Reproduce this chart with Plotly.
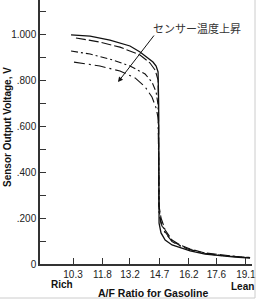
import plotly.graph_objects as go

# ---- data ----
x_solid = [10.2, 11.17, 12.18, 13.2, 13.71, 14.12, 14.37, 14.53, 14.63, 14.66, 14.68, 14.78, 14.99, 15.34, 15.75, 16.26, 17.02, 17.79, 18.55, 19.31]
y_solid = [0.996, 0.991, 0.974, 0.948, 0.922, 0.896, 0.878, 0.861, 0.835, 0.70, 0.178, 0.135, 0.104, 0.083, 0.070, 0.057, 0.043, 0.035, 0.030, 0.026]

x_dash = [10.45, 11.67, 12.69, 13.71, 14.22, 14.48, 14.63, 14.66, 14.67, 14.78, 14.99, 15.34, 15.75, 16.26, 17.02, 17.79, 18.55, 19.31]
y_dash = [0.983, 0.965, 0.943, 0.909, 0.874, 0.843, 0.800, 0.60, 0.257, 0.200, 0.148, 0.104, 0.083, 0.065, 0.048, 0.039, 0.033, 0.028]

x_dashdot = [10.2, 11.17, 12.18, 13.2, 13.97, 14.32, 14.53, 14.63, 14.66, 14.68, 14.78, 14.99, 15.34, 15.75, 16.26, 17.02, 17.79, 18.55, 19.31]
y_dashdot = [0.926, 0.913, 0.891, 0.861, 0.826, 0.791, 0.748, 0.691, 0.50, 0.235, 0.183, 0.139, 0.100, 0.080, 0.063, 0.047, 0.038, 0.032, 0.028]

x_longdd = [10.35, 11.67, 12.69, 13.46, 13.97, 14.32, 14.53, 14.63, 14.66, 14.68, 14.78, 14.99, 15.34, 15.75, 16.26, 17.02, 17.79, 18.55, 19.31]
y_longdd = [0.878, 0.861, 0.839, 0.809, 0.770, 0.726, 0.678, 0.635, 0.45, 0.220, 0.175, 0.135, 0.098, 0.078, 0.062, 0.046, 0.037, 0.031, 0.027]

x_ticks = [10.3, 11.8, 13.2, 14.7, 16.2, 17.6, 19.1]
x_ticktext = ["10.3", "11.8", "13.2", "14.7", "16.2", "17.6", "19.1"]
y_ticks = [0, 0.1, 0.2, 0.3, 0.4, 0.5, 0.6, 0.7, 0.8, 0.9, 1.0, 1.1]
y_ticktext = ["0", "", ".200", "", ".400", "", ".600", "", ".800", "", "1.000", ""]

label_temp = "センサー温度上昇"

# ---- figure ----
LAT = "Liberation Sans, Arial, sans-serif"
fig = go.Figure()
series = [
    (x_solid, y_solid, "solid", 1.3),
    (x_dash, y_dash, "10px,3px", 1.1),
    (x_dashdot, y_dashdot, "7px,3px,2px,3px", 1.1),
    (x_longdd, y_longdd, "11px,4px,2px,4px", 1.1),
]
for xs, ys, dash, w in series:
    fig.add_trace(go.Scatter(x=xs, y=ys, mode="lines",
                             line=dict(color="#111111", width=w, dash=dash),
                             showlegend=False, hoverinfo="skip"))

fig.update_xaxes(range=[8.62, 19.41], tickvals=x_ticks, ticktext=x_ticktext,
                 ticks="inside", ticklen=6, tickwidth=1, tickcolor="#333333",
                 showline=True, linecolor="#333333", linewidth=1.5,
                 showgrid=False, zeroline=False, automargin=False,
                 tickfont=dict(family=LAT, size=10, color="#222222"))
fig.update_yaxes(range=[0, 1.148], tickvals=y_ticks, ticktext=y_ticktext,
                 ticks="inside", ticklen=6, tickwidth=1, tickcolor="#333333",
                 showline=True, linecolor="#333333", linewidth=1.5,
                 showgrid=False, zeroline=False, automargin=False,
                 tickfont=dict(family=LAT, size=10, color="#222222"))

C = dict(xanchor="center", yanchor="middle")
ann = [
    dict(x=16.62, y=1.026, xref="x", yref="y", text=label_temp, showarrow=False,
         font=dict(family="Noto Sans CJK JP", size=11, color="#333333"), **C),
    dict(x=12.59, y=0.791, xref="x", yref="y", ax=14.48, ay=1.0, axref="x", ayref="y",
         text="", showarrow=True, arrowhead=2, arrowsize=1, arrowwidth=1, arrowcolor="#111111"),
    dict(x=0.104, y=-0.0795, xref="paper", yref="paper", text="<b>Rich</b>", showarrow=False,
         font=dict(family=LAT, size=10, color="#111111"), **C),
    dict(x=0.9575, y=-0.087, xref="paper", yref="paper", text="<b>Lean</b>", showarrow=False,
         font=dict(family=LAT, size=10, color="#111111"), **C),
    dict(x=0.533, y=-0.110, xref="paper", yref="paper", text="<b>A/F Ratio for Gasoline</b>",
         showarrow=False, font=dict(family=LAT, size=10.5, color="#111111"), **C),
    dict(x=-0.151, y=0.519, xref="paper", yref="paper", text="<b>Sensor Output Voltage, V</b>",
         showarrow=False, textangle=-90, font=dict(family=LAT, size=10, color="#111111"), **C),
]
fig.update_layout(
    width=258, height=300,
    margin=dict(l=40, r=6, t=0, b=36),
    paper_bgcolor="white", plot_bgcolor="white",
    annotations=ann,
    shapes=[
        dict(type="line", xref="paper", yref="paper", x0=1.0142, x1=1.0142, y0=1.0, y1=-0.1288,
             line=dict(color="#cccccc", width=1)),
        dict(type="line", xref="paper", yref="paper", x0=-0.19, x1=1.0142, y0=-0.1288, y1=-0.1288,
             line=dict(color="#cccccc", width=1)),
    ],
)
fig.write_html("out.html")
